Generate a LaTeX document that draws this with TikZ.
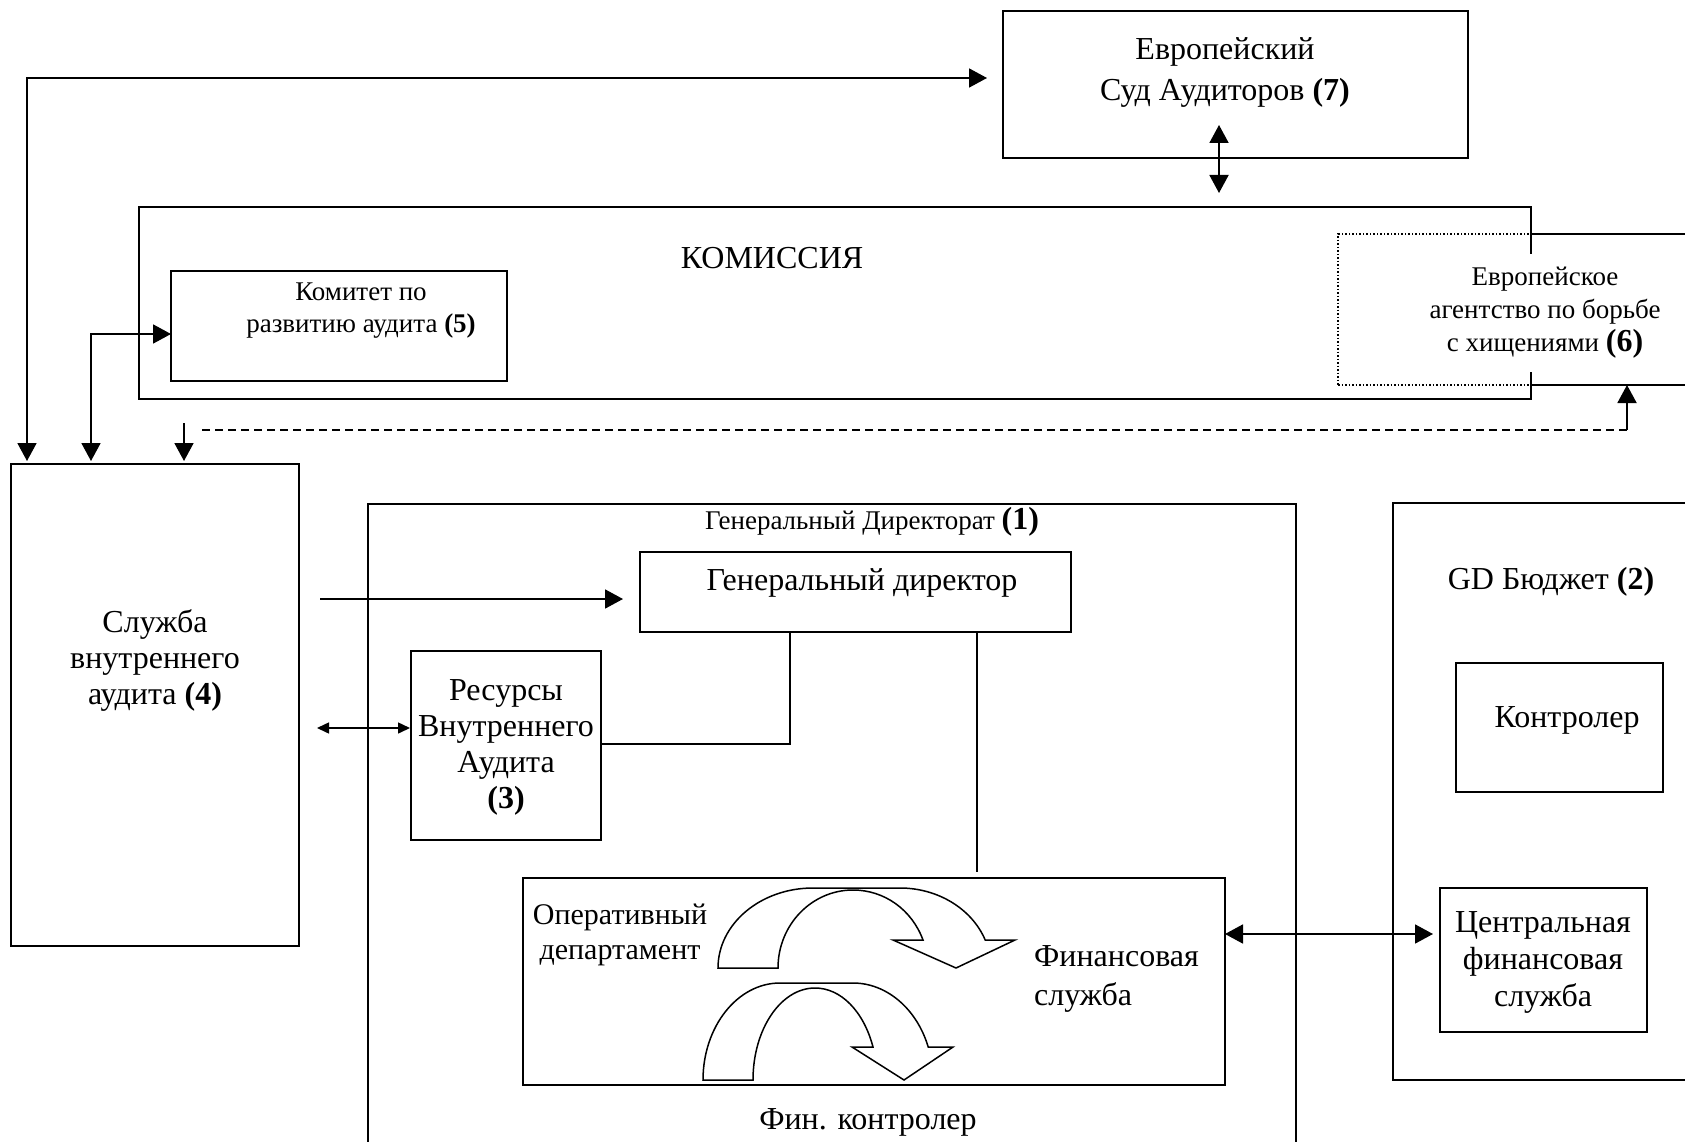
\documentclass[tikz,border=0pt]{standalone}
\usepackage{fontspec}
\setmainfont{Liberation Serif}
\usetikzlibrary{arrows.meta,calc}
\newcommand{\bigf}{\fontsize{32}{36}\selectfont}
\newcommand{\smallf}{\fontsize{27}{32}\selectfont}
\begin{document}
\begin{tikzpicture}[x=1pt,y=-1pt,
  box/.style={draw, line width=1.8pt, inner sep=0pt, outer sep=0pt, anchor=north west, rectangle},
  lbl/.style={inner sep=0pt, align=center, font=\bigf},
  slbl/.style={inner sep=0pt, align=center, font=\smallf},
  conn/.style={line width=1.8pt},
  arr/.style={conn, -{Triangle[length=18pt,width=19pt]}},
  both/.style={conn, {Triangle[length=18pt,width=19pt]}-{Triangle[length=18pt,width=19pt]}},
  sboth/.style={line width=1.5pt, {Triangle[length=12pt,width=11pt]}-{Triangle[length=12pt,width=11pt]}},
  bendarrow/.style={draw, line width=1.5pt, fill=white, line join=miter},
  dashline/.style={line width=1.5pt, dash pattern=on 8pt off 5pt}
]
\useasboundingbox (0,0) rectangle (1685,1142);
\clip (0,0) rectangle (1685,1142);
\fill[white] (0,0) rectangle (1685,1142);

% boxes
\node[box, minimum width=465pt, minimum height=147pt] (court) at (1003,11) {};
\node[box, dotted, line width=1.5pt, dash pattern=on 1.5pt off 2pt, minimum width=193pt, minimum height=151pt] (olafin) at (1338,234) {};
\node[box, minimum width=1392pt, minimum height=192pt] (comm) at (139,207) {};
\node[box, minimum width=336pt, minimum height=110pt] (cttee) at (171,271) {};
\node[box, minimum width=288pt, minimum height=482pt] (svc) at (11,464) {};
\node[box, minimum width=928pt, minimum height=700pt] (gd1) at (368,504) {};
\node[box, minimum width=431pt, minimum height=80pt] (gd) at (640,552) {};
\node[box, minimum width=190pt, minimum height=189pt] (res) at (411,651) {};
\node[box, minimum width=702pt, minimum height=207pt] (ops) at (523,878) {};
\node[box, minimum width=330pt, minimum height=577pt] (gd2) at (1393,503) {};
\node[box, minimum width=207pt, minimum height=129pt] (ctrl) at (1456,663) {};
\node[box, minimum width=207pt, minimum height=144pt] (cfs) at (1440,888) {};

% OLAF outer lines
\draw[conn] (olafin.north east) -- (1700,234);
\draw[conn] (olafin.south east) -- (1700,385);

% texts
\node[lbl, font=\fontsize{32}{41}\selectfont] (courtt) at (1225,73) {Европейский\\Суд Аудиторов \textbf{(7)}};
\node[lbl] (commt) at (772,258) {КОМИССИЯ};
\node[slbl] (ctteet) at (361,311) {Комитет по\\развитию аудита \textbf{(5)}};
\node[slbl, fill=white, minimum height=118pt, inner xsep=2pt, font=\fontsize{27}{33}\selectfont] (olaf) at (1545,313) {Европейское\\агентство по борьбе\\с хищениями {\bigf\textbf{(6)}}};
\node[lbl] (svct) at (155,660) {Служба\\внутреннего\\аудита \textbf{(4)}};
\node[slbl] (gd1t) at (872,522) {Генеральный Директорат {\bigf\textbf{(1)}}};
\node[lbl] (gdt) at (862,583) {Генеральный директор};
\node[lbl] (rest) at (506,747) {Ресурсы\\Внутреннего\\Аудита\\\textbf{(3)}};
\node[lbl, font=\fontsize{30}{35}\selectfont] (opst) at (620,935) {Оперативный\\департамент};
\node[lbl, align=left, anchor=west, font=\fontsize{32}{39}\selectfont] (fint) at (1034,979) {Финансовая\\служба};
\node[lbl] (fct) at (868,1122) {Фин. контролер};
\node[lbl] (gd2t) at (1551,582) {GD Бюджет \textbf{(2)}};
\node[lbl] (ctrlt) at (1567,720) {Контролер};
\node[lbl, font=\fontsize{32}{37}\selectfont] (cfst) at (1543,962) {Центральная\\финансовая\\служба};

% connectors
\coordinate (t1) at (987,78);
\draw[both] (t1) -| ([xshift=16pt,yshift=3pt]svc.north west);
\draw[both] ([yshift=-8pt]cttee.west) -| ([xshift=80pt,yshift=3pt]svc.north west);
\draw[arr] ([xshift=173pt,yshift=41pt]svc.north west) -- ([xshift=173pt,yshift=3pt]svc.north west);
\coordinate (dstart) at (202,430);
\coordinate (dcorner) at (1627,430);
\coordinate (olafbot) at (1627,385);
\draw[dashline] (dstart) -- (dcorner);
\draw[arr] (dcorner) -- (olafbot);
\draw[both] ([xshift=-16.5pt,yshift=33pt]court.south) -- ([xshift=-16.5pt,yshift=-35pt]court.south);
\draw[arr, shorten <=21pt, shorten >=17pt] ([yshift=-7pt]svc.east |- gd.west) -- ([yshift=-7pt]gd.west);
\draw[sboth, shorten <=18pt, shorten >=1pt] (svc.east |- 0,728) -- (res.west |- 0,728);
\draw[conn] (res.east |- 0,744) -| ([xshift=-65.5pt]gd.south);
\draw[line width=1.5pt, shorten >=6pt] ([xshift=121.5pt]gd.south) -- ([xshift=121.5pt]gd.south |- ops.north);
\draw[both, shorten >=7pt] ([yshift=47.5pt]ops.east) -- ([yshift=47.5pt]ops.east -| cfs.west);

% curved arrows
\path[bendarrow] (718,968) .. controls (718,923.8) and (760.6,888) .. (813,888) -- (900,888)
  .. controls (937.9,888) and (971.9,908.8) .. (985.2,940) -- (1015,940) -- (956,968) -- (893,940) -- (923,940)
  .. controls (911.8,909.6) and (884.3,890) .. (853,890)
  .. controls (811.6,890) and (778,924.9) .. (778,968) -- cycle;
\path[bendarrow] (703,1080) .. controls (703,1026.5) and (737.5,983) .. (780,983) -- (853,983)
  .. controls (886.6,983) and (916.8,1008.7) .. (928.2,1047) -- (953,1047) -- (904,1080) -- (852,1047) -- (873,1047)
  .. controls (863.6,1011.2) and (840.9,988) .. (815,988)
  .. controls (780.8,988) and (753,1029.2) .. (753,1080) -- cycle;
\end{tikzpicture}
\end{document}
